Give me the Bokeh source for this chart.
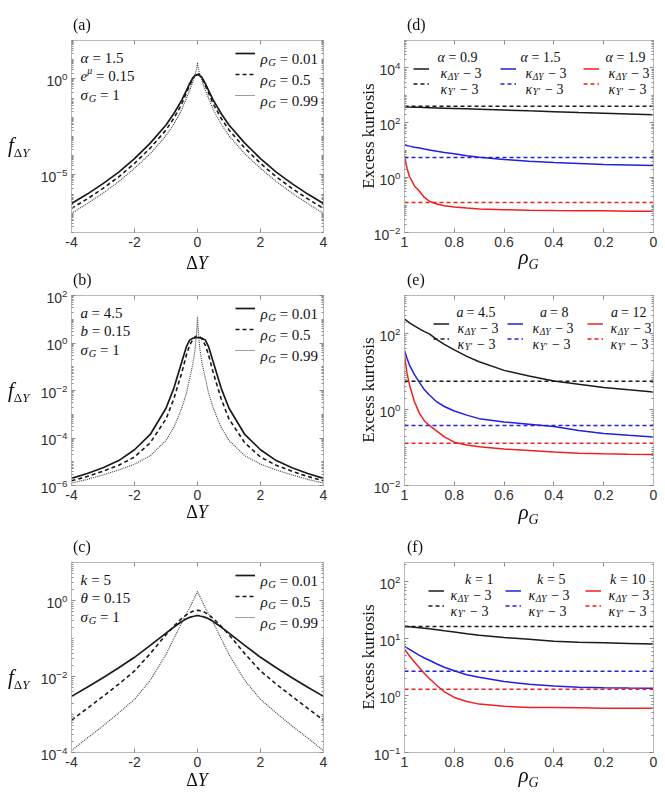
import math

from bokeh.embed import file_html
from bokeh.layouts import column, gridplot
from bokeh.models import (CustomJSTickFormatter, Div, FixedTicker, Label, Legend,
                          LegendItem, LinearAxis, LogAxis, Range1d)
from bokeh.plotting import figure
from bokeh.resources import INLINE

# ---------------------------------------------------------------- data
# increment grid for the densities f_dY (panels a-c)
dy = [-4, -3.5, -3, -2.5, -2, -1.5, -1, -0.75, -0.5, -0.35, -0.25, -0.15, -0.08, -0.03,
      0, 0.03, 0.08, 0.15, 0.25, 0.35, 0.5, 0.75, 1, 1.5, 2, 2.5, 3, 3.5, 4]

# (a) alpha = 1.5, e^mu = 0.15, sigma_G = 1
fa_rho001 = [3.2e-7, 1.0e-6, 3.5e-6, 1.4e-5, 7.1e-5, 4.5e-4, 0.004, 0.0158, 0.079, 0.25, 0.56,
             1.12, 1.48, 1.62, 1.66, 1.62, 1.48, 1.12, 0.56, 0.25, 0.079, 0.0158, 0.004,
             4.5e-4, 7.1e-5, 1.4e-5, 3.5e-6, 1.0e-6, 3.2e-7]
fa_rho05 = [1.8e-7, 5.6e-7, 2.0e-6, 7.9e-6, 4.0e-5, 2.5e-4, 0.0022, 0.0089, 0.05, 0.19, 0.45,
            1.0, 1.51, 1.8, 1.9, 1.8, 1.51, 1.0, 0.45, 0.19, 0.05, 0.0089, 0.0022,
            2.5e-4, 4.0e-5, 7.9e-6, 2.0e-6, 5.6e-7, 1.8e-7]
fa_rho099 = [1.0e-7, 3.2e-7, 1.12e-6, 4.5e-6, 2.2e-5, 1.26e-4, 0.0011, 0.0045, 0.025, 0.1, 0.25,
             0.71, 1.58, 3.2, 7.1, 3.2, 1.58, 0.71, 0.25, 0.1, 0.025, 0.0045, 0.0011,
             1.26e-4, 2.2e-5, 4.5e-6, 1.12e-6, 3.2e-7, 1.0e-7]

# (b) a = 4.5, b = 0.15, sigma_G = 1
fb_rho001 = [2.0e-6, 3.2e-6, 5.6e-6, 1.12e-5, 3.2e-5, 1.41e-4, 0.00178, 0.0126, 0.158, 0.71, 1.32,
             1.58, 1.66, 1.66, 1.66, 1.66, 1.66, 1.58, 1.32, 0.71, 0.158, 0.0126, 0.00178,
             1.41e-4, 3.2e-5, 1.12e-5, 5.6e-6, 3.2e-6, 2.0e-6]
fb_rho05 = [1.58e-6, 2.4e-6, 4.0e-6, 7.1e-6, 1.58e-5, 6.3e-5, 6.3e-4, 0.0045, 0.056, 0.32, 0.79,
            1.41, 1.78, 1.95, 2.0, 1.95, 1.78, 1.41, 0.79, 0.32, 0.056, 0.0045, 6.3e-4,
            6.3e-5, 1.58e-5, 7.1e-6, 4.0e-6, 2.4e-6, 1.58e-6]
fb_rho099 = [1.26e-6, 1.8e-6, 2.8e-6, 4.5e-6, 7.9e-6, 1.8e-5, 7.9e-5, 2.8e-4, 0.0018, 0.0079, 0.032,
             0.126, 0.5, 2.5, 12.6, 2.5, 0.5, 0.126, 0.032, 0.0079, 0.0018, 2.8e-4, 7.9e-5,
             1.8e-5, 7.9e-6, 4.5e-6, 2.8e-6, 1.8e-6, 1.26e-6]

# (c) k = 5, theta = 0.15, sigma_G = 1
fc_rho001 = [0.003, 0.0052, 0.0093, 0.017, 0.032, 0.066, 0.138, 0.2, 0.28, 0.33, 0.36,
             0.38, 0.39, 0.40, 0.40, 0.40, 0.39, 0.38, 0.36, 0.33, 0.28, 0.2, 0.138,
             0.066, 0.032, 0.017, 0.0093, 0.0052, 0.003]
fc_rho05 = [7.1e-4, 0.00145, 0.003, 0.0063, 0.014, 0.04, 0.126, 0.21, 0.34, 0.42, 0.48,
            0.52, 0.54, 0.55, 0.55, 0.55, 0.54, 0.52, 0.48, 0.42, 0.34, 0.21, 0.126,
            0.04, 0.014, 0.0063, 0.003, 0.00145, 7.1e-4]
fc_rho099 = [1.12e-4, 2.4e-4, 5.0e-4, 0.0011, 0.0025, 0.0079, 0.038, 0.1, 0.26, 0.45, 0.63,
             0.95, 1.26, 1.5, 1.74, 1.5, 1.26, 0.95, 0.63, 0.45, 0.26, 0.1, 0.038,
             0.0079, 0.0025, 0.0011, 5.0e-4, 2.4e-4, 1.12e-4]

rho_levels = ["0.01", "0.5", "0.99"]

# correlation grid for the excess kurtosis curves (panels d-f)
rho = [1.0, 0.99, 0.98, 0.96, 0.94, 0.92, 0.9, 0.87, 0.84, 0.8, 0.75, 0.7,
       0.6, 0.5, 0.4, 0.3, 0.2, 0.1, 0.0]

# (d) alpha = 0.9, 1.5, 1.9
kd_dY = {
    "0.9": [380, 378, 375, 370, 365, 361, 356, 349, 342, 333, 322, 311, 291, 272, 255, 238, 223, 208, 195],
    "1.5": [15.8, 14.8, 14.1, 12.9, 12.0, 11.0, 10.2, 9.1, 8.3, 7.4, 6.3, 5.5, 4.6, 4.0, 3.55, 3.25, 3.0, 2.9, 2.75],
    "1.9": [6.2, 2.2, 1.1, 0.5, 0.32, 0.19, 0.138, 0.11, 0.095, 0.085, 0.078, 0.072, 0.068, 0.065, 0.063, 0.062, 0.062, 0.060, 0.060],
}
kd_Y = {"0.9": 400, "1.5": 5.4, "1.9": 0.125}

# (e) a = 4.5, 8, 12
ke_dY = {
    "4.5": [240, 214, 191, 158, 132, 112, 98, 69, 52, 37, 25, 18, 10.7, 7.6, 5.6, 4.6, 3.8, 3.3, 2.9],
    "8": [36, 22.4, 14.8, 8.3, 5.2, 3.3, 2.4, 1.58, 1.2, 0.91, 0.71, 0.575, 0.47, 0.41, 0.355, 0.28, 0.234, 0.21, 0.19],
    "12": [27, 8.9, 4.5, 1.6, 0.79, 0.5, 0.38, 0.27, 0.19, 0.138, 0.117, 0.105, 0.091, 0.083, 0.076, 0.071, 0.068, 0.066, 0.065],
}
ke_Y = {"4.5": 5.5, "8": 0.38, "12": 0.13}

# (f) k = 1, 5, 10
kf_dY = {
    "1": [16.5, 16.4, 16.3, 16.0, 15.7, 15.4, 15.0, 14.5, 13.8, 13.2, 12.3, 11.5, 10.5, 9.8, 9.1, 8.7, 8.5, 8.3, 8.1],
    "5": [7.4, 6.9, 6.5, 5.75, 5.1, 4.6, 4.2, 3.6, 3.16, 2.75, 2.34, 2.1, 1.78, 1.58, 1.48, 1.41, 1.38, 1.36, 1.35],
    "10": [6.6, 5.75, 5.0, 3.9, 3.1, 2.45, 2.0, 1.51, 1.17, 0.93, 0.79, 0.71, 0.65, 0.62, 0.62, 0.61, 0.6, 0.6, 0.6],
}
kf_Y = {"1": 16.5, "5": 2.7, "10": 1.3}

# ---------------------------------------------------------------- styling
FRAME = "#b9b9b9"
TICK = "#8a8a8a"
TICK_TEXT = "#303030"
INK = "#111111"
LINE_K = "#1a1a1a"
LINE_GRAY = "#3c3c3c"
TRIO = ["#1a1a1a", "#2020e0", "#ee2020"]
SERIF = "Liberation Serif"
SANS = "Liberation Sans"

# approximate advance widths (em) of Liberation Serif, used to chain text runs
ADV = {" ": .25, "=": .564, ".": .25, "−": .564, "-": .333, "(": .333, ")": .333,
       "Δ": .612, "Y": .64, "G": .722, "a": .48, "b": .5, "e": .444, "f": .3,
       "k": .47, "α": .55, "ρ": .52, "σ": .55, "θ": .5, "κ": .52, "μ": .52, "′": .28}


def adv(s, size):
    return sum(ADV.get(c, .5) for c in s) * size


def rich(p, x, y, pieces, align="left", color=INK):
    """Chain text runs (text, size, italic, dy) inside the frame, from frame-relative (x, y)."""
    total = sum(adv(t, s) for t, s, _, _ in pieces)
    if align == "right":
        cx = x - total
    elif align == "center":
        cx = x - total / 2
    else:
        cx = x
    for text, size, italic, dyy in pieces:
        lead = len(text) - len(text.lstrip(" "))
        cx += lead * ADV[" "] * size
        body = text.strip(" ")
        p.add_layout(Label(x=cx, y=y + dyy, x_units="screen", y_units="screen", text=body,
                           text_font=SERIF, text_font_size=f"{size}px",
                           text_font_style="italic" if italic else "normal",
                           text_align="left", text_baseline="alphabetic", text_color=color))
        cx += adv(body, size)


def sample_legend(p, renderers, x, y, gw, gh, spacing):
    items = [LegendItem(label=" ", renderers=[r]) for r in renderers]
    lg = Legend(items=items, location=(x, y), orientation="vertical",
                glyph_width=gw, glyph_height=gh, spacing=spacing, padding=0, margin=0,
                label_standoff=0, label_width=0, label_height=gh,
                label_text_font_size="1px", border_line_alpha=0, background_fill_alpha=0)
    p.add_layout(lg)


def style_axis(ax, labels=True):
    ax.axis_line_color = FRAME
    ax.major_tick_line_color = TICK
    ax.minor_tick_line_color = TICK
    ax.major_tick_in = 4
    ax.major_tick_out = 0
    ax.minor_tick_in = 2
    ax.minor_tick_out = 0
    ax.major_label_standoff = 4
    ax.major_label_text_font = SANS
    ax.major_label_text_font_size = "14px"
    ax.major_label_text_color = TICK_TEXT
    if not labels:
        ax.formatter = CustomJSTickFormatter(code="return ''")


COLS = [dict(width=332, left=71, right=9), dict(width=333, left=72, right=12)]
ROWS = [dict(height=273, top=40, bottom=41), dict(height=257, top=22, bottom=45),
        dict(height=262, top=32, bottom=40)]


def panel(col, row, x_range, xticks, y_lo, y_hi, yticks):
    c, r = COLS[col], ROWS[row]
    p = figure(width=c["width"], height=r["height"], x_range=x_range,
               y_range=Range1d(y_lo, y_hi), y_axis_type="log",
               output_backend="svg", toolbar_location=None,
               min_border_left=c["left"], min_border_right=c["right"],
               min_border_top=r["top"], min_border_bottom=r["bottom"])
    p.grid.visible = False
    p.outline_line_color = FRAME
    p.background_fill_color = "white"
    p.border_fill_alpha = 0
    # log minor ticks at 1..9 of every decade in view
    e_lo, e_hi = math.floor(math.log10(y_lo)), math.ceil(math.log10(y_hi))
    yminor = [m * 10.0 ** e for e in range(e_lo, e_hi + 1) for m in range(1, 10)
              if y_lo <= m * 10.0 ** e <= y_hi and not (m == 1 and 10.0 ** e in yticks)]
    p.xaxis.ticker = FixedTicker(ticks=xticks, minor_ticks=[])
    p.yaxis.ticker = FixedTicker(ticks=yticks, minor_ticks=yminor)
    p.xaxis.formatter = CustomJSTickFormatter(code="return String(tick)")
    style_axis(p.xaxis[0])
    style_axis(p.yaxis[0])
    top = LinearAxis(ticker=FixedTicker(ticks=xticks, minor_ticks=[]))
    style_axis(top, labels=False)
    p.add_layout(top, "above")
    right = LogAxis(ticker=FixedTicker(ticks=yticks, minor_ticks=yminor))
    style_axis(right, labels=False)
    p.add_layout(right, "right")
    fw = c["width"] - c["left"] - c["right"]
    fh = r["height"] - r["top"] - r["bottom"]
    return p, fw, fh


# ---------------------------------------------------------------- page-level captions
# panel tags and axis titles sit outside the plot frames, so they are set as HTML
# in a layer pinned to the page's top-left corner
captions = []


def caption(x, y, html, size, mode="left"):
    if mode == "rotate":
        tf = "translate(-50%,-50%) rotate(-90deg)"
    elif mode == "center":
        tf = "translate(-50%,-50%)"
    else:
        tf = "translateY(-50%)"
    captions.append(
        f'<span style="position:absolute;left:{x}px;top:{y}px;transform:{tf};'
        f"font-family:'{SERIF}';font-size:{size}px;line-height:1;white-space:nowrap;"
        f'color:{INK};">{html}</span>')


def sub(html, size, shift):
    return f'<span style="font-size:{size}px;position:relative;top:{shift}px;">{html}</span>'


FRAME_X = [(71, 323), (404, 653)]
FRAME_Y = [(40, 232), (295, 485), (562, 752)]

# ---------------------------------------------------------------- density panels
left_specs = [
    ("(a)", 0, fa_rho001, fa_rho05, fa_rho099, 1e-8, 1e2, [1e-5, 1e0],
     [[("α", 15, True, 0), (" = 1.5", 15, False, 0)],
      [("e", 15, True, 0), ("μ", 10, True, 6), (" = 0.15", 15, False, 0)],
      [("σ", 15, True, 0), ("G", 10.5, True, -3.5), (" = 1", 15, False, 0)]], 145, 263),
    ("(b)", 1, fb_rho001, fb_rho05, fb_rho099, 1e-6, 1e2, [1e-6, 1e-4, 1e-2, 1e0, 1e2],
     [[("a", 15, True, 0), (" = 4.5", 15, False, 0)],
      [("b", 15, True, 0), (" = 0.15", 15, False, 0)],
      [("σ", 15, True, 0), ("G", 10.5, True, -3.5), (" = 1", 15, False, 0)]], 390, 512),
    ("(c)", 2, fc_rho001, fc_rho05, fc_rho099, 1e-4, 1e1, [1e-4, 1e-2, 1e0],
     [[("k", 15, True, 0), (" = 5", 15, False, 0)],
      [("θ", 15, True, 0), (" = 0.15", 15, False, 0)],
      [("σ", 15, True, 0), ("G", 10.5, True, -3.5), (" = 1", 15, False, 0)]], 677, 780),
]

left_panels = []
for tag, row, s1, s2, s3, lo, hi, yt, params, fy, xly in left_specs:
    p, fw, fh = panel(0, row, Range1d(-4, 4), [-4, -2, 0, 2, 4], lo, hi, yt)
    r1 = p.line(dy, s1, line_color=LINE_K, line_width=1.7)
    r2 = p.line(dy, s2, line_color=LINE_K, line_width=1.6, line_dash="4 3")
    r3 = p.line(dy, s3, line_color=LINE_GRAY, line_width=1.1, line_dash="1 1")
    sample_legend(p, [r1, r2, r3], 164, fh - 65, 20, 20, 1)
    for i, lev in enumerate(rho_levels):
        rich(p, 189, fh - 18 - 21 * i,
             [("ρ", 15, True, 0), ("G", 10.5, True, -3.5), (" = " + lev, 15, False, 0)])
    for i, pieces in enumerate(params):
        rich(p, 9, fh - 17 - 18.5 * i, pieces)
    left_panels.append(p)
    fx0, fx1 = FRAME_X[0]
    fy0, _ = FRAME_Y[row]
    caption(fx0 + 2, fy0 - 15, tag, 16)
    caption((fx0 + fx1) / 2, xly, "Δ<i>Y</i>", 18, "center")
    caption(8, fy, "<i>f</i>" + sub("Δ<i>Y</i>", 13, 5), 21)

# ---------------------------------------------------------------- kurtosis panels
right_specs = [
    ("(d)", 0, "α", kd_dY, kd_Y, 1e-2, 1e5, [1e-2, 1e0, 1e2, 1e4],
     [9, 96, 179], [36, 121, 204], [73, 156, 241], 257),
    ("(e)", 1, "a", ke_dY, ke_Y, 1e-2, 1e3, [1e-2, 1e0, 1e2],
     [29, 103, 183], [53, 128, 206], [91, 164, 242], 512),
    ("(f)", 2, "k", kf_dY, kf_Y, 1e-1, 220, [1e-1, 1e0, 1e1, 1e2],
     [24, 101, 181], [46, 124, 204], [89, 161, 241], 775),
]

right_panels = []
for tag, row, sym, k_dY, k_Y, lo, hi, yt, samp, txt, head, xly in right_specs:
    p, fw, fh = panel(1, row, Range1d(1, 0), [0, 0.2, 0.4, 0.6, 0.8, 1], lo, hi, yt)
    for j, key in enumerate(k_dY):
        color = TRIO[j]
        rs = p.line(rho, k_dY[key], line_color=color, line_width=1.5)
        rd = p.line(rho, [k_Y[key]] * len(rho), line_color=color, line_width=1.5, line_dash="4 3")
        sample_legend(p, [rs, rd], samp[j], fh - 50.5, 16, 15, 0)
        rich(p, head[j], fh - 16.5, [(sym, 14, True, 0), (" = " + key, 14, False, 0)], align="right")
        rich(p, txt[j], fh - 33,
             [("κ", 14, True, 0), ("ΔY", 9.5, True, -3), (" − 3", 14, False, 0)])
        rich(p, txt[j], fh - 48.5,
             [("κ", 14, True, 0), ("Y′", 9.5, True, -3), (" − 3", 14, False, 0)])
    right_panels.append(p)
    fx0, fx1 = FRAME_X[1]
    fy0, fy1 = FRAME_Y[row]
    caption(fx0 + 3, fy0 - 15, tag, 16)
    caption((fx0 + fx1) / 2, xly, "<i>ρ</i>" + sub("<i>G</i>", 14, 5), 21, "center")
    caption(368, (fy0 + fy1) / 2, "Excess kurtosis", 17, "rotate")

grid = gridplot([[left_panels[0], right_panels[0]],
                 [left_panels[1], right_panels[1]],
                 [left_panels[2], right_panels[2]]], toolbar_location=None)

overlay = Div(text='<div style="position:fixed;left:0;top:0;width:665px;height:792px;'
                   'margin:0;padding:0;z-index:10;pointer-events:none;">'
                   + "".join(captions) + "</div>",
              width=665, height=0, margin=0,
              styles={"margin": "0", "padding": "0"})

page = column(overlay, grid)

open("out.html", "w").write(file_html(page, INLINE))
